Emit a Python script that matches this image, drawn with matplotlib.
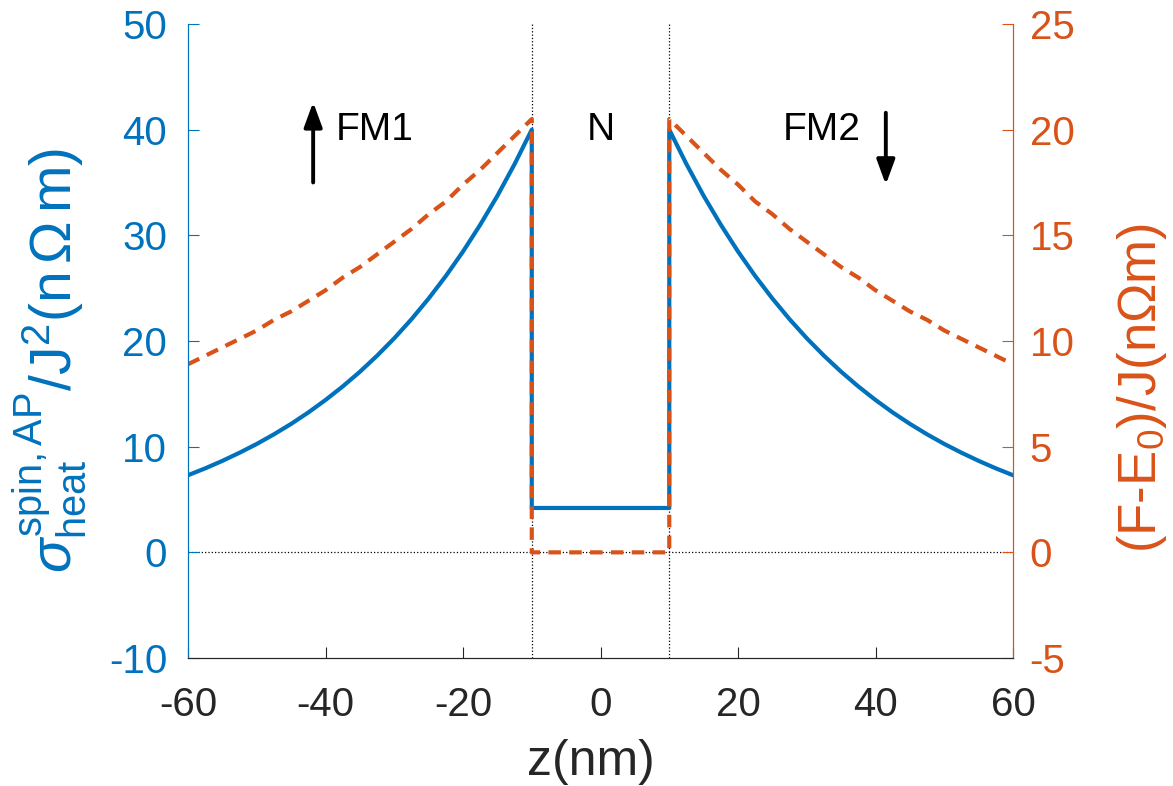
import matplotlib.pyplot as plt
import numpy as np

plt.rcParams['font.family'] = ['Liberation Sans', 'DejaVu Sans']
plt.rcParams['mathtext.fontset'] = 'custom'
plt.rcParams['mathtext.rm'] = 'Liberation Sans'
plt.rcParams['mathtext.it'] = 'Liberation Sans:italic'
plt.rcParams['axes.unicode_minus'] = False

blue = '#0072BD'
orange = '#D95319'

# z positions in FM2 (FM1 is the mirror image)
z_fm = [10, 12.5, 15, 17.5, 20, 22.5, 25, 27.5, 30, 32.5, 35, 37.5, 40,
        42.5, 45, 47.5, 50, 52.5, 55, 57.5, 60]
# sigma_heat^{spin,AP}/J^2 in FM (left axis)
sigma_fm = [40.00, 36.74, 33.74, 31.00, 28.47, 26.15, 24.02, 22.06, 20.26,
            18.61, 17.09, 15.70, 14.42, 13.24, 12.16, 11.17, 10.26, 9.43,
            8.66, 7.95, 7.30]
# (F-E0)/J in FM (right axis)
free_fm = [20.5, 19.7, 18.9, 18.1, 17.4, 16.6, 16.0, 15.3, 14.7, 14.1, 13.5,
           13.0, 12.4, 11.9, 11.4, 11.0, 10.5, 10.1, 9.7, 9.3, 8.9]
# values in the N spacer
sigma_n = 4.2
free_n = 0.0
n_edges = [-10, 10]

z = [-v for v in z_fm[::-1]] + n_edges + z_fm
sigma = sigma_fm[::-1] + [sigma_n, sigma_n] + sigma_fm
free = free_fm[::-1] + [free_n, free_n] + free_fm

fig = plt.figure(figsize=(11.73, 7.86), dpi=100)
ax = fig.add_axes([0.1603, 0.1628, 0.7033, 0.8067])
ax2 = ax.twinx()

ax.plot(z, sigma, color=blue, lw=3)
ax2.plot(z, free, color=orange, lw=3, ls='--', dashes=(3, 2))

# reference lines
for xv in n_edges:
    ax.axvline(xv, color='black', ls=':', lw=0.9, zorder=0)
ax.axhline(0, color='black', ls=':', lw=0.9, zorder=0)

ax.set_xlim(-60, 60)
ax.set_ylim(-10, 50)
ax2.set_ylim(-5, 25)
ax.set_xticks(np.arange(-60, 61, 20))
ax.set_yticks(np.arange(-10, 51, 10))
ax2.set_yticks(np.arange(-5, 26, 5))

for a in (ax, ax2):
    a.spines['top'].set_visible(False)
    a.spines['bottom'].set_color('#262626')
ax.spines['left'].set_color(blue)
ax2.spines['left'].set_color(blue)
ax.spines['right'].set_color(orange)
ax2.spines['right'].set_color(orange)

ax.tick_params(axis='x', direction='in', length=8, labelsize=29,
               colors='#262626', pad=20)
ax.tick_params(axis='y', direction='in', length=8, labelsize=29,
               colors=blue, pad=15)
ax2.tick_params(axis='y', direction='in', length=8, labelsize=29,
                colors=orange, pad=12)

ax.set_xlabel('z(nm)', fontsize=36, color='#262626')
ax.xaxis.set_label_coords(0.488, -0.128)
ax.set_ylabel(r'$\sigma^{\rm spin,AP}_{\rm heat}$/J$^2$(n$\,\Omega\,$m)',
              fontsize=41, color=blue)
ax.yaxis.set_label_coords(-0.12, 0.47)
ax2.set_ylabel(r'(F-E$_0$)/J(n$\Omega$m)', fontsize=38, color=orange,
               rotation=90)
ax2.yaxis.set_label_coords(1.124, 0.426)

# region labels and magnetization arrows
ax.text(-32.8, 40, 'FM1', fontsize=28, ha='center', va='center')
ax.text(0, 40, 'N', fontsize=28, ha='center', va='center')
ax.text(32.2, 40, 'FM2', fontsize=28, ha='center', va='center')
arrow = dict(arrowstyle='-|>,head_length=0.6,head_width=0.22',
             color='black', lw=2.8, mutation_scale=25, shrinkA=0, shrinkB=0)
ax.annotate('', xy=(-41.8, 42.6), xytext=(-41.8, 35), arrowprops=arrow)
ax.annotate('', xy=(41.5, 34.8), xytext=(41.5, 41.6), arrowprops=arrow)

fig.savefig('out.png', dpi=100)
